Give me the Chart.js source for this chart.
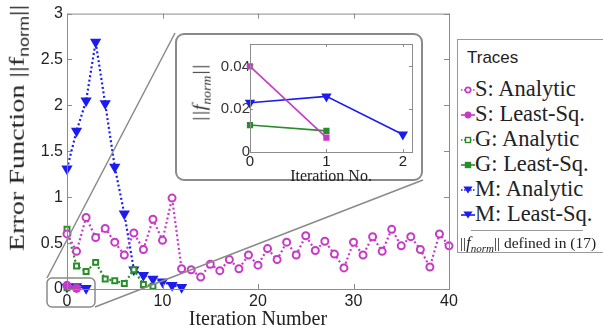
<!DOCTYPE html>
<html>
<head>
<meta charset="utf-8">
<script src="https://cdn.jsdelivr.net/npm/chart.js@4.4.0/dist/chart.umd.min.js"></script>
<style>
  body { margin: 0; width: 603px; height: 332px; position: relative; background: #fff; overflow: hidden; }
  #mainWrap { position: absolute; left: 0; top: 0; width: 603px; height: 332px; }
  #ytitle { position: absolute; left: 18px; top: 128px; transform: translate(-50%, -50%) rotate(-90deg) scaleX(1.28);
            white-space: nowrap; font-family: "Liberation Serif", serif; font-size: 22px; color: #222; }
  #ytitle sub { font-family: "Liberation Sans", sans-serif; font-size: 14px; }
  #inset { position: absolute; left: 175px; top: 33px; width: 244px; height: 144px;
           border: 2px solid #8a8a8a; border-radius: 9px; background: #fff; }
  #inset canvas { position: absolute; left: 0; top: 0; }
  #iytitle { position: absolute; left: 25px; top: 58px; transform: translate(-50%, -50%) rotate(-90deg) scaleX(1.15);
             white-space: nowrap; font-family: "Liberation Serif", serif; font-style: italic; font-size: 18px; color: #333; }
  #iytitle sub { font-size: 12px; }
  #legend { position: absolute; left: 457px; top: 39px; width: 150px; height: 212px;
            border: 1px solid #999; background: #fff; font-family: "Liberation Serif", serif; color: #222; }
  #legend .head { position: absolute; left: 9px; top: 8px; font-family: "Liberation Sans", sans-serif; font-size: 17px; }
  #legend .row { position: absolute; left: 3px; height: 24px; font-family: "Liberation Serif", serif; font-size: 22.5px;
                 white-space: nowrap; line-height: 24px; }
  #legend .row svg { vertical-align: middle; position: relative; top: -1px; }
  #legend .sep { position: absolute; left: 13px; width: 112px; top: 190px; border-top: 1px solid #999; }
  #legend .note { position: absolute; left: 2px; top: 194px; font-size: 15.5px; white-space: nowrap; }
  #legend .note i { font-size: 16px; }
</style>
</head>
<body>
<div id="mainWrap"><canvas id="mainChart"></canvas></div>
<div id="ytitle">Error Function ||f<sub>norm</sub>||</div>
<div id="inset">
  <canvas id="insetChart" width="244" height="151"></canvas>
  <div id="iytitle">||<i>f</i><sub>norm</sub>||</div>
</div>
<div id="legend"></div>
<script>
// Data
const sAnalytic = [0.60, 0.41, 0.78, 0.56, 0.66, 0.51, 0.37, 0.61, 0.43, 0.76, 0.53, 0.99, 0.22, 0.21,
  0.13, 0.27, 0.20, 0.32, 0.22, 0.37, 0.26, 0.44, 0.32, 0.51, 0.37, 0.58, 0.42, 0.52, 0.38, 0.23,
  0.51, 0.37, 0.57, 0.41, 0.65, 0.47, 0.57, 0.43, 0.24, 0.60, 0.47];
const sLeastSq = [0.040, 0.0067];
const gAnalytic = [0.65, 0.25, 0.19, 0.29, 0.11, 0.09, 0.06, 0.21, 0.05, 0.03];
const gLeastSq = [0.0126, 0.0099];
const mAnalytic = [1.31, 1.72, 2.05, 2.69, 2.02, 1.33, 0.82, 0.21, 0.15, 0.11, 0.08, 0.04, 0.02];
const mLeastSq = [0.023, 0.026, 0.0082];

const mainXTicks = [0, 10, 20, 30, 40];
const mainYTicks = [0, 0.5, 1, 1.5, 2, 2.5, 3];
const insetXTicks = [0, 1, 2];
const insetYTicks = [0, 0.02, 0.04];

const MAG = '#c63ac6', GRN = '#2a8c2a', BLU = '#1c1cf0';

const pts = arr => arr.map((v, i) => ({ x: i, y: v }));

// inward ticks + grey frame, MATLAB style
const frame = {
  id: 'frame',
  afterDraw(chart, args, opts) {
    const { ctx, chartArea: a, scales: { x, y } } = chart;
    const len = opts.len || 5;
    ctx.save();
    ctx.strokeStyle = '#8c8c8c';
    ctx.lineWidth = 1;
    ctx.strokeRect(a.left + 0.5, a.top + 0.5, a.right - a.left, a.bottom - a.top);
    ctx.beginPath();
    x.ticks.forEach(t => {
      const px = Math.round(x.getPixelForValue(t.value)) + 0.5;
      ctx.moveTo(px, a.bottom); ctx.lineTo(px, a.bottom - len);
      ctx.moveTo(px, a.top); ctx.lineTo(px, a.top + len);
    });
    y.ticks.forEach(t => {
      const py = Math.round(y.getPixelForValue(t.value)) + 0.5;
      ctx.moveTo(a.left, py); ctx.lineTo(a.left + len, py);
      ctx.moveTo(a.right, py); ctx.lineTo(a.right - len, py);
    });
    ctx.stroke();
    ctx.restore();
  }
};

// zoom box round the origin and the two lines out to the inset
const zoomLines = {
  id: 'zoomLines',
  afterDatasetsDraw(chart) {
    const { ctx, scales: { x, y } } = chart;
    const x0 = x.getPixelForValue(0), y0 = y.getPixelForValue(0);
    const l = x0 - 20, r = x0 + 28, t = y0 - 11, b = y0 + 18;
    ctx.save();
    ctx.strokeStyle = '#8a8a8a';
    ctx.lineWidth = 1.5;
    ctx.beginPath();
    ctx.roundRect(l, t, r - l, b - t, 5);
    ctx.moveTo(l, t); ctx.lineTo(175, 33);
    ctx.moveTo(r, b); ctx.lineTo(423, 180);
    ctx.stroke();
    ctx.restore();
  }
};

function line(label, data, color, style, dashed, open, rot) {
  return {
    label, data: pts(data), borderColor: color, borderWidth: dashed ? 2.2 : 1.6,
    borderDash: dashed ? [2, 2.5] : [], pointStyle: style, pointRotation: rot || 0,
    pointRadius: style === 'triangle' ? 4.5 : 3.5, pointBorderWidth: 2,
    pointBorderColor: color, pointBackgroundColor: open ? '#fff' : color,
    backgroundColor: color, tension: 0, clip: false
  };
}

const tickText = v => String(v);

new Chart(document.getElementById('mainChart'), {
  type: 'line',
  data: {
    datasets: [
      line('S: Analytic', sAnalytic, MAG, 'circle', true, true),
      line('S: Least-Sq.', sLeastSq, MAG, 'circle', false, false),
      line('G: Analytic', gAnalytic, GRN, 'rect', true, true),
      line('G: Least-Sq.', gLeastSq, GRN, 'rect', false, false),
      line('M: Analytic', mAnalytic, BLU, 'triangle', true, false, 180),
      line('M: Least-Sq.', mLeastSq, BLU, 'triangle', false, false, 180)
    ]
  },
  options: {
    responsive: true, maintainAspectRatio: false, animation: false,
    layout: { padding: { left: 0, right: 154, top: 13, bottom: 0 } },
    plugins: { legend: { display: false }, tooltip: { enabled: false }, frame: { len: 5 } },
    scales: {
      x: {
        type: 'linear', min: 0, max: 40,
        afterBuildTicks: s => { s.ticks = mainXTicks.map(v => ({ value: v })); },
        afterFit: s => { s.height = 43; },
        grid: { display: false, drawTicks: false }, border: { display: false },
        ticks: { font: { family: 'Liberation Sans', size: 16 }, color: '#222', padding: 3, callback: tickText },
        title: { display: true, text: 'Iteration Number', color: '#222',
                 font: { family: 'Liberation Serif', size: 20 }, padding: { top: 0, bottom: 0 } }
      },
      y: {
        min: 0, max: 3,
        afterBuildTicks: s => { s.ticks = mainYTicks.map(v => ({ value: v })); },
        afterFit: s => { s.width = 67; },
        grid: { display: false, drawTicks: false }, border: { display: false },
        ticks: { font: { family: 'Liberation Sans', size: 16 }, color: '#222', padding: 4, callback: tickText }
      }
    }
  },
  plugins: [frame, zoomLines]
});

new Chart(document.getElementById('insetChart'), {
  type: 'line',
  data: {
    datasets: [
      line('S: Least-Sq.', sLeastSq, MAG, 'rect', false, false),
      line('G: Least-Sq.', gLeastSq, GRN, 'rect', false, false),
      line('M: Least-Sq.', mLeastSq, BLU, 'triangle', false, false, 180)
    ].map(d => Object.assign(d, { pointRadius: d.pointStyle === 'triangle' ? 4 : 3 }))
  },
  options: {
    responsive: false, animation: false,
    layout: { padding: { left: 0, right: 9, top: 3, bottom: 0 } },
    plugins: { legend: { display: false }, tooltip: { enabled: false }, frame: { len: 3 } },
    scales: {
      x: {
        type: 'linear', min: 0, max: 2.12,
        afterBuildTicks: s => { s.ticks = insetXTicks.map(v => ({ value: v })); },
        afterFit: s => { s.height = 34; },
        grid: { display: false, drawTicks: false }, border: { display: false },
        ticks: { font: { family: 'Liberation Sans', size: 15 }, color: '#222', padding: 1, callback: tickText },
        title: { display: true, text: 'Iteration No.', color: '#222',
                 font: { family: 'Liberation Serif', size: 16 }, padding: 0 }
      },
      y: {
        min: 0, max: 0.0505,
        afterBuildTicks: s => { s.ticks = insetYTicks.map(v => ({ value: v })); },
        afterFit: s => { s.width = 73; },
        grid: { display: false, drawTicks: false }, border: { display: false },
        ticks: { font: { family: 'Liberation Sans', size: 15 }, color: '#333', padding: 0, callback: tickText }
      }
    }
  },
  plugins: [frame]
});

// legend box
const legendRows = [
  ['S: Analytic', MAG, 'circle', true, true],
  ['S: Least-Sq.', MAG, 'circle', false, false],
  ['G: Analytic', GRN, 'rect', true, true],
  ['G: Least-Sq.', GRN, 'rect', false, false],
  ['M: Analytic', BLU, 'tri', true, false],
  ['M: Least-Sq.', BLU, 'tri', false, false]
];
function marker(color, shape, dashed, open) {
  const fill = open ? '#fff' : color;
  let m;
  if (shape === 'circle') m = `<circle cx="7" cy="7" r="2.6" fill="${fill}" stroke="${color}" stroke-width="1.6"/>`;
  else if (shape === 'rect') m = `<rect x="4.5" y="4.5" width="5" height="5" fill="${fill}" stroke="${color}" stroke-width="1.4"/>`;
  else m = `<polygon points="3.5,4 10.5,4 7,9.5" fill="${fill}" stroke="${color}" stroke-width="1.2"/>`;
  return `<svg width="14" height="14"><line x1="0" y1="7" x2="14" y2="7" stroke="${color}" stroke-width="1.6" ${dashed ? 'stroke-dasharray="1.5,1.5"' : ''}/>${m}</svg>`;
}
const lg = document.getElementById('legend');
let html = '<div class="head">Traces</div>';
legendRows.forEach((r, i) => {
  html += `<div class="row" style="top:${37 + i * 25}px">${marker(r[1], r[2], r[3], r[4])}${r[0]}</div>`;
});
html += '<div class="sep"></div><div class="note">||<i>f</i><sub style="font-style:italic;font-size:11px">norm</sub>|| defined in (17)</div>';
lg.innerHTML = html;
</script>
</body>
</html>
